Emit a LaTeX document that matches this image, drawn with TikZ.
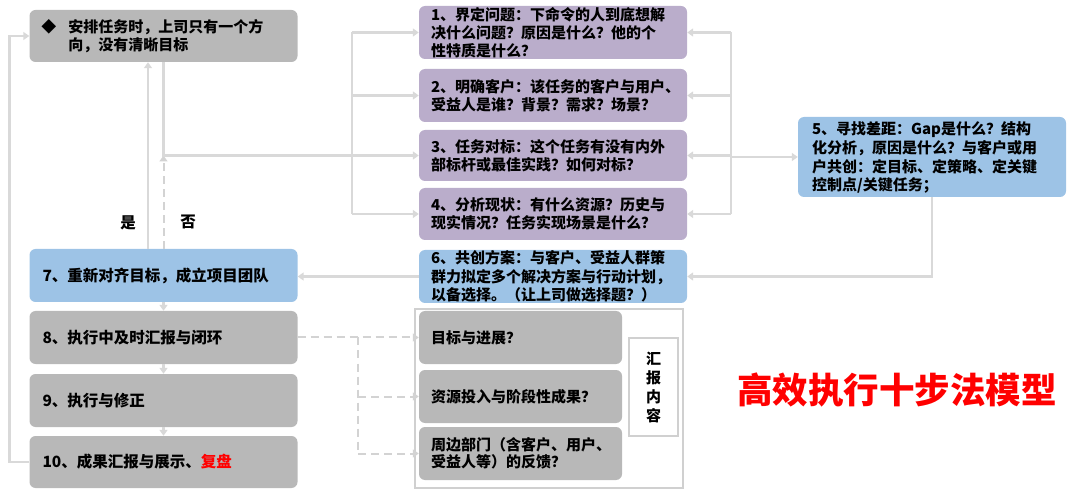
\documentclass[tikz,border=0pt]{standalone}
\usepackage{fontspec}
\setmainfont{Noto Sans CJK SC}
\usetikzlibrary{arrows.meta}
\definecolor{lc}{HTML}{D9D9D9}
\definecolor{dc}{HTML}{D3D3D3}
\definecolor{gbox}{HTML}{B8B8B8}
\definecolor{pbox}{HTML}{BAADCB}
\definecolor{bbox}{HTML}{9DC3E6}
\definecolor{rborder}{HTML}{D0D0D0}
\tikzset{
  ln/.style={draw=lc, line width=2.4pt},
  arr/.style={ln, -{Triangle[width=8pt,length=6pt]}},
  dl/.style={draw=dc, line width=2pt, dash pattern=on 8pt off 5pt},
  darr/.style={dl, -{Triangle[width=8pt,length=6pt]}},
  bx/.style={rounded corners=6pt, minimum width=268pt, text width=244pt, inner xsep=12pt, inner ysep=0pt, align=left, font=\bfseries\fontsize{15}{18}\selectfont},
  gbx/.style={bx, fill=gbox},
  pbx/.style={bx, fill=pbox},
  bbx/.style={bx, fill=bbox},
  lbx/.style={font=\bfseries\fontsize{15.5}{19}\selectfont, inner xsep=13pt, text width=242pt},
  sbx/.style={rounded corners=6pt, fill=gbox, minimum width=203pt, text width=179pt, inner xsep=12pt, inner ysep=0pt, align=left, minimum height=53pt, font=\bfseries\fontsize{15}{17}\selectfont},
  lbl/.style={font=\bfseries\fontsize{15.5}{18}\selectfont}
}
\begin{document}
\begin{tikzpicture}[x=1pt,y=-1pt]
\useasboundingbox (0,0) rectangle (1080,489);
% left column
\node[gbx, minimum height=52pt] (bA) at (163.5,36) {\fontsize{15}{19}\selectfont\makebox[27pt][l]{◆}安排任务时，上司只有一个方\\\hspace*{27pt}向，没有清晰目标};
\node[bbx, lbx, minimum height=53pt] (b7) at (163.5,275.5) {7、重新对齐目标，成立项目团队};
\node[gbx, lbx, minimum height=53pt] (b8) at (163.5,337.5) {8、执行中及时汇报与闭环};
\node[gbx, lbx, minimum height=53pt] (b9) at (163.5,400.5) {9、执行与修正};
\node[gbx, lbx, minimum height=52pt] (b10) at (163.5,462) {10、成果汇报与展示、\textcolor{red}{复盘}};
% middle column
\node[pbx, minimum height=53pt] (b1) at (553,32.5) {\fontsize{15}{17.5}\selectfont 1、界定问题：下命令的人到底想解\\决什么问题？原因是什么？他的个\\性特质是什么？};
\node[pbx, minimum height=53pt] (b2) at (553,95.5) {\fontsize{15}{26}\selectfont 2、明确客户：该任务的客户与用户、\\受益人是谁？背景？需求？场景？};
\node[pbx, minimum height=51pt] (b3) at (553,155.5) {\fontsize{15}{22}\selectfont 3、任务对标：这个任务有没有内外\\部标杆或最佳实践？如何对标？};
\node[pbx, minimum height=52pt] (b4) at (553,214) {\fontsize{15}{21}\selectfont 4、分析现状：有什么资源？历史与\\现实情况？任务实现场景是什么？};
\node[bbx, minimum height=53pt] (b6) at (553,276.5) {\fontsize{15}{19}\selectfont 6、共创方案：与客户、受益人群策\\群力拟定多个解决方案与行动计划，\\以备选择。（让上司做选择题？）};
% right
\node[bbx, minimum height=80pt, inner xsep=14pt, text width=240pt] (b5) at (932,157) {\fontsize{15}{19}\selectfont 5、寻找差距：Gap是什么？结构\\化分析，原因是什么？与客户或用\\户共创：定目标、定策略、定关键\\控制点/关键任务；};
% report container
\node[draw=rborder, line width=1.5pt, fill=white, minimum width=268pt, minimum height=179pt, inner sep=0pt] (rep) at (549,398.5) {};
\node[sbx] (sa) at (520.5,337.5) {目标与进展？};
\node[sbx] (sb) at (520.5,396.5) {资源投入与阶段性成果？};
\node[sbx] (sc) at (520.5,453.5) {周边部门（含客户、用户、\\受益人等）的反馈？};
\node[draw=rborder, line width=1.5pt, fill=white, minimum width=49pt, minimum height=98pt, inner sep=0pt, align=center, font=\bfseries\fontsize{15}{19}\selectfont] (hb) at (653.5,387) {汇\\报\\内\\容};
% title and labels
\node[text=red, font=\bfseries\fontsize{35.5}{40}\selectfont] (title) at (897,390) {高效执行十步法模型};
\node[lbl] (yes) at (128,223) {是};
\node[lbl] (no) at (188,222) {否};
% helper coordinates
\coordinate (xs) at (148,0);
\coordinate (L) at (352,0);
\coordinate (R) at (731,0);
\coordinate (D) at (358,0);
\coordinate (J) at (bA.south |- b3.west);
% connectors
\draw[arr] (b10.west) -- ++(-20,0) |- (bA.west);
\draw[arr] (b7.north -| xs) -- (bA.south -| xs);
\draw[darr] (b7.north) -- (J);
\draw[arr] (bA.south) -- (J) -- (b3.west);
\draw[ln] (b1.west -| L) -- (b4.west -| L);
\draw[arr] (b1.west -| L) -- (b1.west);
\draw[arr] (b2.west -| L) -- (b2.west);
\draw[arr] (b4.west -| L) -- (b4.west);
\draw[ln] (b1.east -| R) -- (b4.east -| R);
\draw[arr] (b1.east -| R) -- (b1.east);
\draw[arr] (b2.east -| R) -- (b2.east);
\draw[arr] (b3.east -| R) -- (b3.east);
\draw[arr] (b4.east -| R) -- (b4.east);
\draw[arr] (b5.west -| R) -- (b5.west);
\draw[arr] (b5.south) |- (b6.east);
\draw[arr] (b6.west) -- (b6.west -| b7.east);
\draw[arr] (b7.south) -- (b8.north);
\draw[arr] (b8.south) -- (b9.north);
\draw[arr] (b9.south) -- (b10.north);
\draw[dl] (b8.east -| D) -- (sc.west -| D);
\draw[darr] (b8.east) -- (sa.west);
\draw[darr] (sb.west -| D) -- (sb.west);
\draw[darr] (sc.west -| D) -- (sc.west);
\end{tikzpicture}
\end{document}
